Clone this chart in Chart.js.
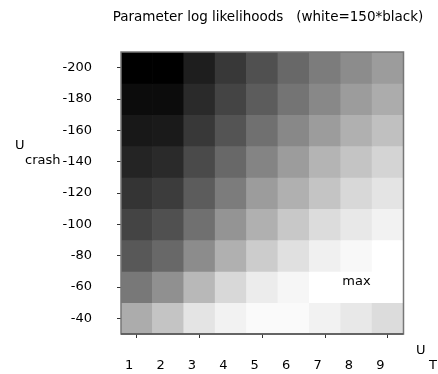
<!DOCTYPE html>
<html>
<head>
<meta charset="utf-8">
<script src="https://cdn.jsdelivr.net/npm/chart.js@4"></script>
<style>
  body { margin: 0; background: #fff; }
  #wrap { width: 438px; height: 374px; }
</style>
</head>
<body>
<div id="wrap"><canvas id="heat" width="438" height="374"></canvas></div>
<script>
// HEATMAP – parameter log likelihoods (grey level per cell, 0 = black, 255 = white)
const uT = ['1', '2', '3', '4', '5', '6', '7', '8', '9'];
const uCrash = [-200, -180, -160, -140, -120, -100, -80, -60, -40];

const row200 = [0, 0, 30, 56, 80, 104, 124, 140, 156];
const row180 = [12, 12, 42, 68, 92, 116, 136, 156, 172];
const row160 = [24, 26, 56, 84, 112, 136, 156, 176, 192];
const row140 = [36, 42, 74, 104, 132, 156, 180, 196, 212];
const row120 = [52, 60, 92, 124, 156, 176, 196, 216, 228];
const row100 = [68, 80, 112, 148, 176, 200, 220, 232, 242];
const row80  = [88, 104, 140, 176, 204, 224, 240, 248, 255];
const row60  = [120, 144, 184, 216, 236, 246, 255, 255, 255];
const row40  = [172, 196, 228, 242, 250, 250, 242, 232, 220];
const levels = [row200, row180, row160, row140, row120, row100, row80, row60, row40];

const maxCell = { x: '8', y: -60 };

const grey = v => `rgb(${v},${v},${v})`;

const datasets = uCrash.map((u, i) => ({
    label: 'U crash ' + u,
    data: uT.map(() => [u - 10, u + 10]),
    backgroundColor: levels[i].map(grey),
    borderWidth: 0,
    barPercentage: 1,
    categoryPercentage: 1
}));

const extras = {
    id: 'extras',
    afterDraw(chart) {
        const c = chart.ctx;
        const a = chart.chartArea;
        const xs = chart.scales.x, ys = chart.scales.y;
        c.save();
        // frame
        c.strokeStyle = '#777';
        c.lineWidth = 1.5;
        c.strokeRect(a.left, a.top, a.right - a.left, a.bottom - a.top);
        c.strokeStyle = '#555';
        c.beginPath();
        c.moveTo(a.left, a.bottom);
        c.lineTo(a.right, a.bottom);
        c.stroke();

        c.fillStyle = '#000';
        c.textBaseline = 'middle';
        c.textAlign = 'center';
        c.font = '13.5px "DejaVu Sans"';
        c.fillText('Parameter log likelihoods   (white=150*black)', 268, 17);
        c.font = '13px "DejaVu Sans"';
        c.fillText('max', xs.getPixelForValue(uT.indexOf(maxCell.x)), ys.getPixelForValue(maxCell.y) - 5);

        c.textAlign = 'left';
        c.fillText('U', 15, 146);
        c.fillText('crash', 25, 161);
        c.fillText('U', 416, 351);
        c.fillText('T', 429, 366);
        c.restore();
    }
};

new Chart(document.getElementById('heat'), {
    type: 'bar',
    data: { labels: uT, datasets: datasets },
    options: {
        responsive: false,
        animation: false,
        devicePixelRatio: 1,
        grouped: false,
        layout: { padding: { top: 52, right: 34.5, left: 0, bottom: 0 } },
        plugins: {
            legend: { display: false },
            tooltip: { enabled: false }
        },
        scales: {
            x: {
                type: 'category',
                afterFit: s => { s.height = 40; },
                grid: {
                    offset: false,
                    drawOnChartArea: false,
                    drawTicks: true,
                    tickLength: 4,
                    tickWidth: 1,
                    tickColor: ctx => ctx.index % 2 === 0 ? '#333' : 'rgba(0,0,0,0)'
                },
                border: { display: false },
                ticks: {
                    color: '#000',
                    font: { family: 'DejaVu Sans', size: 13 },
                    padding: 20,
                    labelOffset: -7.5,
                    maxRotation: 0
                }
            },
            y: {
                type: 'linear',
                reverse: true,
                min: -210,
                max: -30,
                afterFit: s => { s.width = 121; },
                afterBuildTicks: s => { s.ticks = uCrash.map(v => ({ value: v })); },
                grid: {
                    drawOnChartArea: false,
                    drawTicks: true,
                    tickLength: 4,
                    tickWidth: 1,
                    tickColor: '#333'
                },
                border: { display: false },
                ticks: {
                    color: '#000',
                    font: { family: 'DejaVu Sans', size: 13 },
                    padding: 25
                }
            }
        }
    },
    plugins: [extras]
});
</script>
</body>
</html>
